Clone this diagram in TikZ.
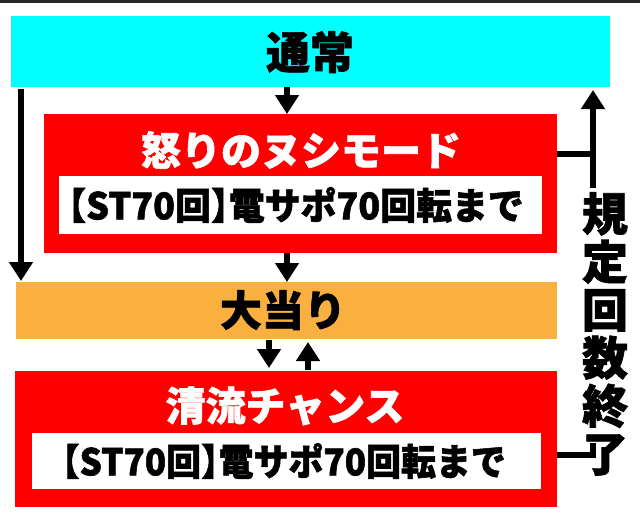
\documentclass[tikz,border=0pt]{standalone}
\usepackage{fontspec}
\setmainfont{Noto Sans CJK JP}[BoldFeatures={FakeBold=1.5}]
\usetikzlibrary{arrows.meta}
\definecolor{cyanbox}{HTML}{00FFFF}
\definecolor{redbox}{HTML}{FF0000}
\definecolor{orangebox}{HTML}{F9B03F}
\newcommand{\hb}[1]{{\addfontfeature{RawFeature=+halt}#1}}
\tikzset{
  ttl/.style={inner sep=0pt, font=\bfseries\fontsize{40}{44}\selectfont},
  sub/.style={inner sep=0pt, font=\bfseries\fontsize{37}{40}\selectfont},
  conn/.style={line width=6pt, -{Triangle[width=23pt,length=19pt]}},
  plain/.style={line width=6pt},
}
\begin{document}
\begin{tikzpicture}[x=1pt,y=-1pt]
\useasboundingbox (0,0) rectangle (640,520);
\fill[white] (0,0) rectangle (640,520);
\fill[black!85] (0,0) rectangle (640,2.7);
% boxes
\fill[cyanbox] (11,16) rectangle (610,87);
\fill[redbox] (44,114) rectangle (557,253);
\fill[white] (59,176) rectangle (542,234);
\fill[orangebox] (16,282) rectangle (557,339);
\fill[redbox] (15,371) rectangle (557,507);
\fill[white] (32,433) rectangle (541,489);
% named reference points
\coordinate (cyanB) at (287,87);
\coordinate (cyanBL) at (21,89);
\coordinate (cyanBR) at (593,90);
\coordinate (redAT) at (287,114);
\coordinate (redAB) at (287,253);
\coordinate (redAR) at (557,153.5);
\coordinate (orT) at (287,282);
\coordinate (orTL) at (21,281);
\coordinate (orBd) at (269,340);
\coordinate (orBu) at (308,342);
\coordinate (redBTd) at (269,368);
\coordinate (redBTu) at (308,370);
\coordinate (redBR) at (557,455);
\coordinate (vjoinA) at (593,153.5);
\coordinate (vjoinB) at (593,455);
% texts
\node[ttl, font=\bfseries\fontsize{44}{48}\selectfont] (normal) at (310,52) {通常};
\node[ttl, text=white] (nushi) at (301,150) {怒りのヌシモード};
\node[sub, xscale=0.97] (nushisub) at (296,205) {\hb{【}ST70回\hb{】}電サポ70回転まで};
\node[ttl, font=\bfseries\fontsize{42}{46}\selectfont] (hit) at (283,310) {大当り};
\node[ttl, text=white] (seiryu) at (285,406) {清流チャンス};
\node[sub, xscale=0.945] (seiryusub) at (284,461) {\hb{【}ST70回\hb{】}電サポ70回転まで};
% connectors
\draw[conn] (cyanB) -- (redAT);
\draw[conn] (cyanBL) -- (orTL);
\draw[conn] (redAB) -- (orT);
\draw[conn] (orBd) -- (redBTd);
\draw[conn] (redBTu) -- (orBu);
\draw[plain] (redAR) -- (vjoinA);
\draw[conn] (redBR) -- (vjoinB) -- (cyanBR);
% vertical label
\fill[white] (580,188) rectangle (632,443);
\node[inner sep=0pt, anchor=north, align=center, font=\bfseries\fontsize{46}{48}\selectfont] (endlabel) at (605,192) {規\\定\\回\\数\\終\\了};
\end{tikzpicture}
\end{document}
